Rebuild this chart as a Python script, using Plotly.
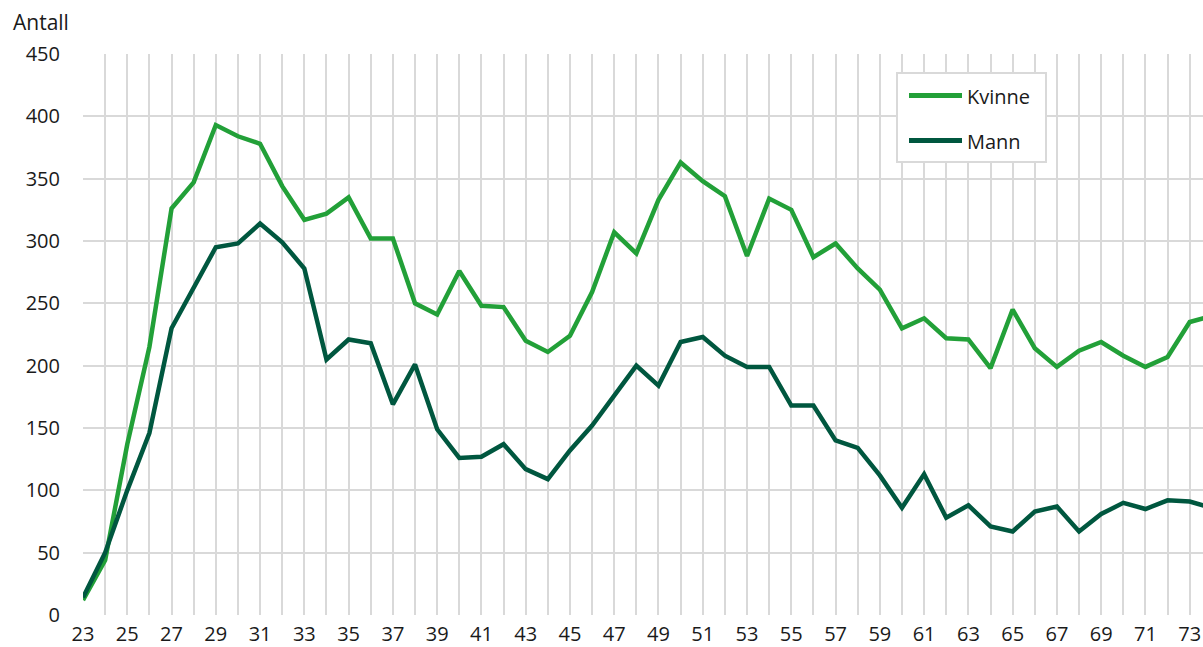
import plotly.graph_objects as go

ages = list(range(23, 75))
kvinne = [12, 44, 137, 215, 326, 347, 393, 384, 378, 344, 317, 322, 335, 302, 302, 250, 241, 276,
          248, 247, 220, 211, 224, 259, 307, 290, 333, 363, 348, 336, 288, 334, 325, 287, 298, 278,
          261, 230, 238, 222, 221, 198, 245, 214, 199, 212, 219, 208, 199, 207, 235, 240]
mann = [14, 50, 100, 146, 230, 262, 295, 298, 314, 299, 278, 205, 221, 218, 169, 201, 149, 126,
        127, 137, 117, 109, 132, 152, 176, 200, 184, 219, 223, 208, 199, 199, 168, 168, 140, 134,
        112, 86, 113, 78, 88, 71, 67, 83, 87, 67, 81, 90, 85, 92, 91, 86]
series_names = ["Kvinne", "Mann"]
colors = ["#22a038", "#00573f"]
y_title = "Antall"

W, H = 1203, 647
L, R, T, B = 83, 0, 54, 32
PW, PH = W - L - R, H - T - B


def px(xp):
    return (xp - L) / PW


def py(yp):
    return (H - B - yp) / PH


fig = go.Figure()
for name, vals, col in zip(series_names, [kvinne, mann], colors):
    fig.add_trace(go.Scatter(x=ages, y=vals, name=name, mode="lines",
                             line=dict(color=col, width=4.5), showlegend=False))

grid = "#d9d9d9"
shapes = [dict(type="rect", xref="paper", yref="paper", x0=px(897), x1=px(1046), y0=py(162), y1=py(73),
               line=dict(color=grid, width=2), fillcolor="white", layer="above")]
annotations = [dict(text=y_title, xref="paper", yref="paper", x=px(11), y=py(22),
                    xanchor="left", yanchor="middle", showarrow=False, font=dict(size=21))]
for i, (name, col) in enumerate(zip(series_names, colors)):
    yy = 95.5 + i * 45
    shapes.append(dict(type="line", xref="paper", yref="paper", x0=px(909), x1=px(962), y0=py(yy), y1=py(yy),
                       line=dict(color=col, width=5), layer="above"))
    annotations.append(dict(text=name, xref="paper", yref="paper", x=px(965), y=py(yy + 1),
                            xanchor="left", yanchor="middle", showarrow=False, font=dict(size=20)))

fig.update_layout(
    width=W, height=H,
    margin=dict(l=L, r=R, t=T, b=B, autoexpand=False),
    paper_bgcolor="white", plot_bgcolor="white",
    font=dict(family="Open Sans", size=20, color="#1a1a1a"),
    showlegend=False,
    xaxis=dict(range=[23, 73.6], tick0=23, dtick=2, showgrid=True, gridcolor=grid, gridwidth=2,
               minor=dict(dtick=1, tick0=23, showgrid=True, gridcolor=grid, gridwidth=2),
               zeroline=False, showline=False, ticks="", ticklabelstandoff=5, automargin=False),
    yaxis=dict(range=[0, 450], dtick=50, showgrid=True, gridcolor=grid, gridwidth=2,
               zeroline=False, showline=False, ticks="", ticklabelstandoff=22, automargin=False),
    shapes=shapes,
    annotations=annotations,
)
fig.write_html("out.html", config={"displayModeBar": False},
               post_script="document.body.style.margin='0';document.body.style.overflow='hidden';")
